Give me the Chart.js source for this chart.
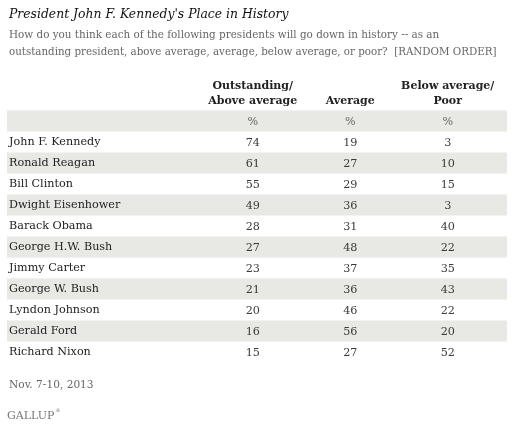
<!DOCTYPE html>
<html>
<head>
<meta charset="utf-8">
<script src="https://cdn.jsdelivr.net/npm/chart.js@4"></script>
<style>
  body { margin: 0; background: #fff; }
  #wrap { width: 514px; height: 428px; }
</style>
</head>
<body>
<div id="wrap"><canvas id="table"></canvas></div>
<script>
const presidents = [
    'John F. Kennedy', 'Ronald Reagan', 'Bill Clinton', 'Dwight Eisenhower', 'Barack Obama',
    'George H.W. Bush', 'Jimmy Carter', 'George W. Bush', 'Lyndon Johnson', 'Gerald Ford', 'Richard Nixon'
];
const outstanding = [74, 61, 55, 49, 28, 27, 23, 21, 20, 16, 15];
const average = [19, 27, 29, 36, 31, 48, 37, 36, 46, 56, 27];
const belowPoor = [3, 10, 15, 3, 40, 22, 35, 43, 22, 20, 52];
const columnNames = ['Outstanding/Above average', 'Average', 'Below average/Poor'];
const columnHeaders = [['Outstanding/', 'Above average'], 'Average', ['Below average/', 'Poor']];
const unitLabel = '%';
const titleText = "President John F. Kennedy's Place in History";
const subtitleLines = [
    'How do you think each of the following presidents will go down in history -- as an',
    'outstanding president, above average, average, below average, or poor?  [RANDOM ORDER]'
];
const dateNote = 'Nov. 7-10, 2013';
const sourceName = 'GALLUP';

const SERIF = '"DejaVu Serif", "Liberation Serif", serif';
const BAND = '#e8e8e4';

// x: two slots taken by the name column, then the three answer columns
const xLabels = ['name', 'gap'].concat(columnNames);
// y: first row is the "%" row, then one row per president
const unitRow = 'unit';
const yLabels = [unitRow].concat(presidents);

function columnData(values, col) {
    const pts = [{ x: columnNames[col], y: unitRow, text: unitLabel }];
    values.forEach((v, i) => pts.push({ x: columnNames[col], y: presidents[i], text: String(v) }));
    return pts;
}

const tablePlugin = {
    id: 'tableCells',
    // bands go under everything, including the name labels of the y axis
    beforeDraw(chart) {
        const { ctx, chartArea, scales } = chart;
        const yScale = scales.y;
        const half = (yScale.getPixelForValue(1) - yScale.getPixelForValue(0)) / 2;
        ctx.save();
        ctx.fillStyle = BAND;
        for (let i = 0; i < yLabels.length; i += 2) {
            const yc = yScale.getPixelForValue(i);
            ctx.fillRect(chartArea.left - 2, yc - half, chartArea.right - chartArea.left + 12.5, half * 2);
        }
        ctx.restore();
    },
    afterDatasetsDraw(chart) {
        const { ctx } = chart;
        ctx.save();
        ctx.font = '11.2px ' + SERIF;
        ctx.textAlign = 'center';
        ctx.textBaseline = 'middle';
        chart.data.datasets.forEach((ds, di) => {
            const meta = chart.getDatasetMeta(di);
            meta.data.forEach((pt, i) => {
                const raw = ds.data[i];
                ctx.fillStyle = raw.y === unitRow ? '#666' : '#3a3a3a';
                ctx.fillText(raw.text, pt.x, pt.y + 1);
            });
        });
        // footer notes under the table
        ctx.textAlign = 'left';
        ctx.textBaseline = 'alphabetic';
        ctx.fillStyle = '#666';
        ctx.font = '10.6px ' + SERIF;
        ctx.fillText(dateNote, chart.chartArea.left, 388);
        ctx.font = '11px ' + SERIF;
        ctx.fillStyle = '#777';
        ctx.fillText(sourceName, chart.chartArea.left - 2, 419);
        const w = ctx.measureText(sourceName).width;
        ctx.font = '5px ' + SERIF;
        ctx.fillText('\u00AE', chart.chartArea.left - 1 + w, 412);
        ctx.restore();
    }
};

new Chart(document.getElementById('table'), {
    type: 'scatter',
    data: {
        datasets: [
            { label: columnNames[0], data: columnData(outstanding, 0) },
            { label: columnNames[1], data: columnData(average, 1) },
            { label: columnNames[2], data: columnData(belowPoor, 2) }
        ]
    },
    options: {
        responsive: true,
        maintainAspectRatio: false,
        animation: false,
        events: [],
        elements: { point: { radius: 0, hoverRadius: 0 } },
        layout: { padding: { left: 9, right: 17.5, top: 0, bottom: 65.5 } },
        plugins: {
            legend: { display: false },
            tooltip: { enabled: false },
            title: {
                display: true,
                text: titleText,
                align: 'start',
                color: '#111',
                font: { family: SERIF, size: 12.4, style: 'italic', weight: 'normal', lineHeight: '16px' },
                padding: { top: 6.5, bottom: 0 }
            },
            subtitle: {
                display: true,
                text: subtitleLines,
                align: 'start',
                color: '#666',
                font: { family: SERIF, size: 10.4, weight: 'normal', lineHeight: '17px' },
                padding: { top: 4, bottom: 16 }
            }
        },
        scales: {
            x: {
                type: 'category',
                labels: xLabels,
                position: 'top',
                offset: true,
                grid: { display: false, drawTicks: false },
                border: { display: false },
                ticks: {
                    color: '#222',
                    padding: 2,
                    maxRotation: 0,
                    autoSkip: false,
                    font: { family: SERIF, size: 11, weight: 'bold', lineHeight: '15px' },
                    callback: (val, idx) => (idx >= 2 ? columnHeaders[idx - 2] : '')
                }
            },
            y: {
                type: 'category',
                labels: yLabels,
                position: 'left',
                offset: true,
                grid: { display: false, drawTicks: false },
                border: { display: false },
                ticks: {
                    mirror: true,
                    padding: 0,
                    autoSkip: false,
                    color: '#222',
                    font: { family: SERIF, size: 11.2 },
                    callback: (val, idx) => (idx === 0 ? '' : presidents[idx - 1])
                }
            }
        }
    },
    plugins: [tablePlugin]
});
</script>
</body>
</html>
